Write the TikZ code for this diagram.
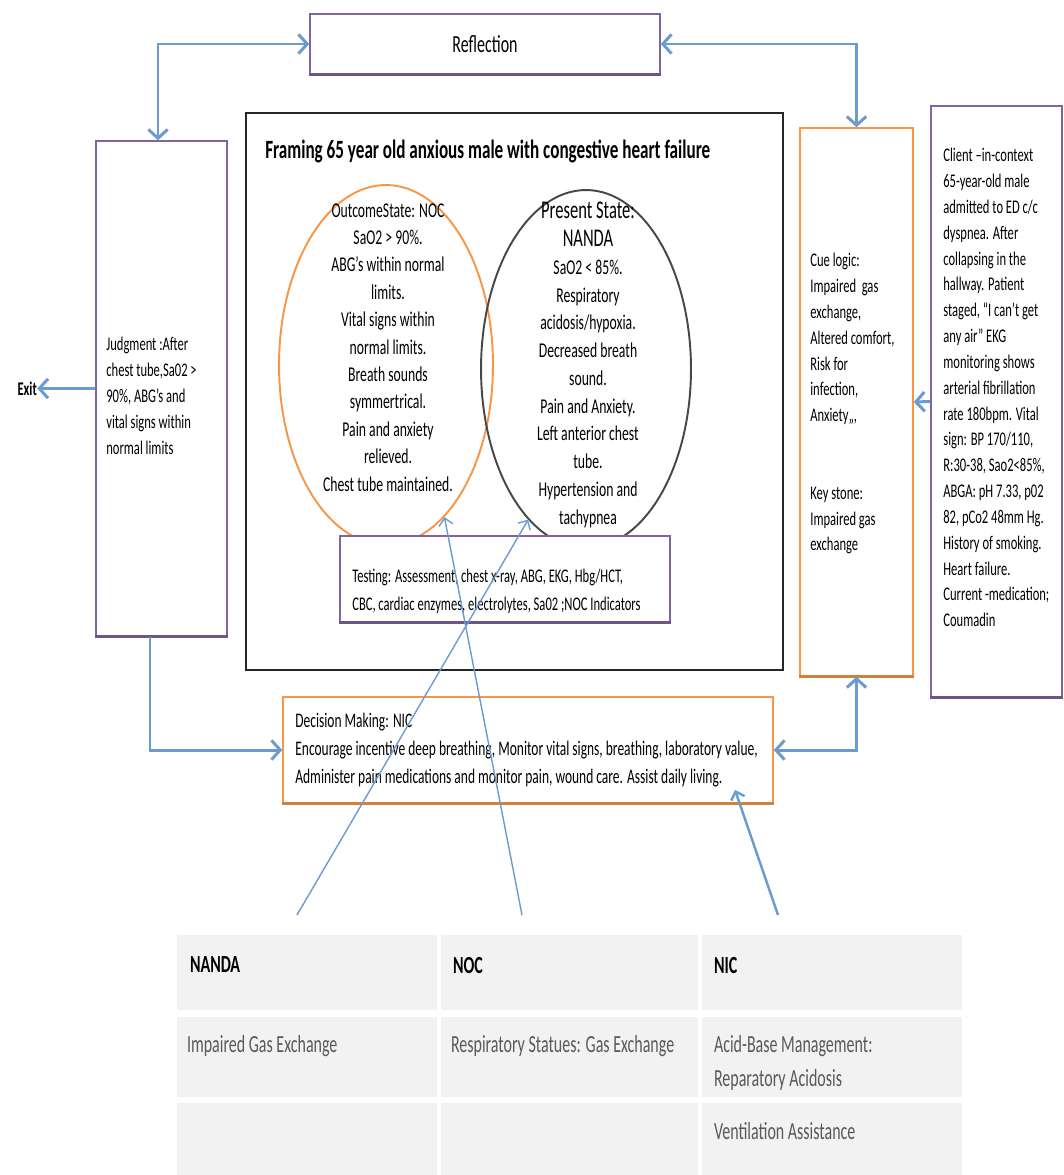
\documentclass[tikz,border=0pt]{standalone}
\usepackage{fontspec}
\setmainfont{Carlito}[FakeStretch=0.65]
\usetikzlibrary{positioning,shapes.geometric,arrows.meta}
\definecolor{boxpurple}{HTML}{8064A2}
\definecolor{boxorange}{HTML}{F79646}
\definecolor{arrowblue}{HTML}{6C9AD2}
\definecolor{cellgray}{HTML}{F2F2F2}
\definecolor{textgray}{HTML}{595959}
\definecolor{framegray}{HTML}{262626}

\begin{document}
\begin{tikzpicture}
  [x=0.02cm,y=-0.02cm,
   box/.style={draw, rectangle, inner sep=0pt, line width=0.9pt, fill=white},
   purplebox/.style={box, draw=boxpurple},
   orangebox/.style={box, draw=boxorange},
   txt/.style={inner sep=0pt, anchor=north west, align=left, font=\fontsize{11}{14.7}\selectfont},
   oval/.style={draw, ellipse, inner sep=0pt, line width=1.1pt},
   cell/.style={rectangle, fill=cellgray, inner sep=0pt},
   celltext/.style={inner sep=0pt, anchor=north west, align=left, text=textgray, font=\fontsize{14}{19.3}\selectfont},
   link/.style={draw=arrowblue, line width=1.7pt, {Straight Barb[length=5pt,width=11pt]}-{Straight Barb[length=5pt,width=11pt]}},
   linkone/.style={draw=arrowblue, line width=1.7pt, -{Straight Barb[length=5pt,width=11pt]}},
   ray/.style={draw=arrowblue, line width=0.8pt, -{Straight Barb[length=4pt,width=8pt]}}]

  \useasboundingbox (0,0) rectangle (1063,1175);

  % framing area
  \node[draw=framegray, line width=1.6pt, rectangle, minimum width=10.74cm, minimum height=11.14cm] (frame) at (514.5,391.5) {};
  \node[txt, font=\fontsize{15}{17}\selectfont\bfseries] (title) at (265,140) {Framing 65 year old anxious male with congestive heart failure};

  \node[oval, draw=boxorange, minimum width=4.28cm, minimum height=7.2cm] (outc) at (386,365) {};
  \node[oval, draw=framegray!85, minimum width=4.2cm, minimum height=7.16cm] (pres) at (586,369) {};

  \node[txt, anchor=north, align=center, font=\fontsize{12}{15.6}\selectfont] (outctext) at (388,203)
  {OutcomeState: NOC\\SaO2 > 90\%.\\ABG’s within normal\\limits.\\Vital signs within\\normal limits.\\Breath sounds\\symmertrical.\\Pain and anxiety\\relieved.\\Chest tube maintained.};
  \node[txt, anchor=north, align=center, font=\fontsize{12}{15.8}\selectfont] (prestext) at (588,202)
  {{\fontsize{14.5}{16}\selectfont Present State:}\\{\fontsize{14.5}{16}\selectfont NANDA}\\SaO2 < 85\%.\\Respiratory\\acidosis/hypoxia.\\Decreased breath\\sound.\\Pain and Anxiety.\\Left anterior chest\\tube.\\Hypertension and\\tachypnea};

  \node[purplebox, minimum width=6.6cm, minimum height=1.72cm] (test) at (505,579) {};
  \node[txt, font=\fontsize{11}{15.9}\selectfont] (testtext) at (352,569)
  {Testing: Assessment, chest x-ray, ABG, EKG, Hbg/HCT,\\CBC, cardiac enzymes, electrolytes, Sa02 ;NOC Indicators};

  % outer boxes
  \node[purplebox, minimum width=7cm, minimum height=1.2cm, font=\fontsize{14}{16}\selectfont] (refl) at (485,44) {Reflection};
  \node[purplebox, minimum width=2.62cm, minimum height=9.9cm] (judg) at (161.5,388.5) {};
  \node[txt] (judgtext) at (106,337)
  {Judgment :After\\chest tube,Sa02 >\\90\%, ABG’s and\\vital signs within\\normal limits};
  \node[inner sep=0pt, font=\fontsize{11}{13}\selectfont\bfseries, left=1.16cm of judg] (exit) {Exit};

  \node[orangebox, minimum width=9.8cm, minimum height=2.12cm] (deci) at (528,750) {};
  \node[txt, font=\fontsize{11.8}{16}\selectfont] (decitext) at (295,713)
  {Decision Making: NIC\\Encourage incentive deep breathing, Monitor vital signs, breathing, laboratory value,\\Administer pain medications and monitor pain, wound care. Assist daily living.};

  \node[orangebox, minimum width=2.26cm, minimum height=10.96cm] (cue) at (856.5,402) {};
  \node[txt] (cuetext) at (810,253)
  {Cue logic:\\Impaired\ \ gas\\exchange,\\Altered comfort,\\Risk for\\infection,\\Anxiety,,,\\[29.4pt]Key stone:\\Impaired gas\\exchange};

  \node[purplebox, minimum width=2.62cm, minimum height=11.82cm] (clnt) at (996.5,401.5) {};
  \node[txt] (clnttext) at (943,148)
  {Client –in-context\\65-year-old male\\admitted to ED c/c\\dyspnea. After\\collapsing in the\\hallway. Patient\\staged, “I can’t get\\any air” EKG\\monitoring shows\\arterial fibrillation\\rate 180bpm. Vital\\sign: BP 170/110,\\R:30-38, Sao2<85\%,\\ABGA: pH 7.33, p02\\82, pCo2 48mm Hg.\\History of smoking.\\Heart failure.\\Current -medication;\\Coumadin};

  % shadowed bottom edges
  \foreach \b/\c in {refl/boxpurple, judg/boxpurple, test/boxpurple, clnt/boxpurple, deci/boxorange, cue/boxorange}
    \draw[\c!85!black, line width=1.8pt] (\b.south west) -- (\b.south east);

  % connectors
  \path[link] ([xshift=-0.07cm]judg.north) |- (refl.west);
  \path[link] (refl.east) -| (cue.north);
  \path[linkone] ([xshift=-0.23cm]judg.south) |- (deci.west);
  \path[link] (cue.south) |- (deci.east);
  \path[linkone] (clnt.west) -- (cue.east);
  \path[linkone] (judg.west) -- (exit.east);

  % table
  \node[cell, minimum width=5.2cm, minimum height=1.5cm] (hdNanda) at (307,972.5) {};
  \node[cell, minimum width=5.14cm, minimum height=1.5cm] (hdNoc) at (569.5,972.5) {};
  \node[cell, minimum width=5.2cm, minimum height=1.5cm] (hdNic) at (832,972.5) {};
  \node[cell, minimum width=5.2cm, minimum height=1.6cm] (rwNanda) at (307,1057) {};
  \node[cell, minimum width=5.14cm, minimum height=1.6cm] (rwNoc) at (569.5,1057) {};
  \node[cell, minimum width=5.2cm, minimum height=1.6cm] (rwNic) at (832,1057) {};
  \node[cell, minimum width=5.2cm, minimum height=1.44cm] (lsNanda) at (307,1139) {};
  \node[cell, minimum width=5.14cm, minimum height=1.44cm] (lsNoc) at (569.5,1139) {};
  \node[cell, minimum width=5.2cm, minimum height=1.44cm] (lsNic) at (832,1139) {};

  \node[celltext, text=black, font=\fontsize{14}{16}\selectfont\bfseries, below right=0.44cm and 0.26cm of hdNanda.north west] {NANDA};
  \node[celltext, text=black, font=\fontsize{14}{16}\selectfont\bfseries, below right=0.44cm and 0.24cm of hdNoc.north west] {NOC};
  \node[celltext, text=black, font=\fontsize{14}{16}\selectfont\bfseries, below right=0.44cm and 0.24cm of hdNic.north west] {NIC};
  \node[celltext, below right=0.36cm and 0.2cm of rwNanda.north west] {Impaired Gas Exchange};
  \node[celltext, below right=0.36cm and 0.2cm of rwNoc.north west] {Respiratory Statues: Gas Exchange};
  \node[celltext, below right=0.36cm and 0.24cm of rwNic.north west] {Acid-Base Management:\\Reparatory Acidosis};
  \node[celltext, below right=0.38cm and 0.24cm of lsNic.north west] {Ventilation Assistance};

  % long pointers from the table
  \coordinate (nandaTail) at (297,915);
  \coordinate (nocTail) at (522,915);
  \coordinate (nicTail) at (778,915);
  \coordinate (nicTip) at (735,790);
  \draw[ray] (nandaTail) -- (pres.249);
  \draw[ray] (nocTail) -- (outc.291);
  \draw[ray, line width=1.4pt] (nicTail) -- (nicTip);
\end{tikzpicture}
\end{document}
